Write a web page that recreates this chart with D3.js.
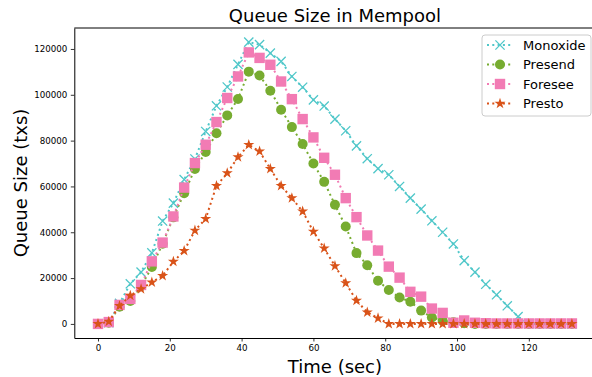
<!DOCTYPE html>
<html>
<head>
<meta charset="utf-8">
<script src="https://cdn.jsdelivr.net/npm/d3@7"></script>
<style>
  html, body { margin: 0; padding: 0; background: #fff; }
  svg { display: block; font-family: "DejaVu Sans", sans-serif; }
</style>
</head>
<body>
<div id="chart"></div>
<script>
// Sampling times (sec), one point every 3 s
const times = d3.range(0, 133, 3);

const monoxide = [0, 500, 9000, 17500, 22600, 31000, 44900, 52700, 63000, 72000,
  84000, 95200, 103400, 113300, 123000, 121900, 118200, 114600, 108000, 103300,
  97800, 95100, 89400, 84300, 77700, 72100, 67800, 65100, 60000, 54900,
  50100, 45000, 40000, 34900, 27600, 22600, 17300, 12700, 7900, 3200,
  0, 0, 0, 0, 0];

const presend = [0, 500, 7500, 10000, 16500, 24800, 35000, 46500, 57000, 67600,
  75000, 83200, 91000, 98200, 110100, 108400, 101800, 93500, 85900, 78500,
  70000, 62000, 52000, 42500, 30900, 25600, 18800, 14800, 11500, 9700,
  5800, 2800, 1400, 700, 300, 0, 0, 0, 0, 0,
  0, 0, 0, 0, 0];

const foresee = [0, 800, 8300, 10900, 17000, 27300, 35500, 46900, 59500, 70200,
  78200, 88100, 98600, 108000, 118500, 116100, 113100, 105800, 98100, 89400,
  81400, 72500, 65100, 54900, 46600, 38600, 32000, 25000, 20200, 14000,
  11900, 6700, 4800, 500, 1500, 500, 300, 200, 200, 200,
  200, 200, 200, 200, 200];

const presto = [0, 1000, 7900, 12400, 15200, 18200, 21000, 27200, 31900, 40800,
  45900, 60300, 65800, 72800, 78200, 75300, 67700, 60300, 54900, 49100,
  40300, 33000, 25300, 17800, 10200, 5100, 2500, 0, 0, 0,
  0, 0, 0, 0, 0, 0, 0, 0, 0, 0,
  0, 0, 0, 0, 0];

const seriesNames = ["Monoxide", "Presend", "Foresee", "Presto"];
const seriesValues = [monoxide, presend, foresee, presto];
const seriesColors = ["#4fc7c9", "#77ac30", "#f27bb4", "#d95319"];
const seriesMarkers = ["x", "circle", "square", "star"];

const xTicks = [0, 20, 40, 60, 80, 100, 120];
const yTicks = [0, 20000, 40000, 60000, 80000, 100000, 120000];

const W = 592, H = 377;
const plot = { left: 74.3, right: 595.6, top: 28, bottom: 338 };

const svg = d3.select("#chart").append("svg")
  .attr("width", W)
  .attr("height", H);

// matplotlib-like 5% margins
const x = d3.scaleLinear().domain([-6.6, 138.6]).range([plot.left, plot.right]);
const y = d3.scaleLinear().domain([-6150, 129150]).range([plot.bottom, plot.top]);

// marker drawing
function drawMarker(g, type, color) {
  if (type === "x") {
    const r = 4.6;
    g.append("path")
      .attr("d", "M" + -r + "," + -r + "L" + r + "," + r + "M" + -r + "," + r + "L" + r + "," + -r)
      .attr("stroke", color)
      .attr("stroke-width", 1.3)
      .attr("fill", "none");
  } else if (type === "circle") {
    g.append("circle").attr("r", 5).attr("fill", color);
  } else if (type === "square") {
    g.append("rect")
      .attr("x", -5.2).attr("y", -5.2)
      .attr("width", 10.4).attr("height", 10.4)
      .attr("fill", color);
  } else if (type === "star") {
    g.append("path")
      .attr("d", d3.symbol().type(d3.symbolStar).size(38)())
      .attr("fill", color);
  }
}

const clip = svg.append("clipPath").attr("id", "clip")
  .append("rect")
  .attr("x", plot.left).attr("y", plot.top)
  .attr("width", plot.right - plot.left)
  .attr("height", plot.bottom - plot.top);

const lineGen = d3.line()
  .x(function(d) { return x(d[0]); })
  .y(function(d) { return y(d[1]); });

const plotArea = svg.append("g").attr("clip-path", "url(#clip)");

seriesValues.forEach(function(vals, i) {
  const pts = times.map(function(t, k) { return [t, vals[k]]; });
  const g = plotArea.append("g");
  g.append("path")
    .datum(pts)
    .attr("d", lineGen)
    .attr("fill", "none")
    .attr("stroke", seriesColors[i])
    .attr("stroke-width", 2)
    .attr("stroke-dasharray", "2,3.3");
  pts.forEach(function(p) {
    const m = g.append("g")
      .attr("transform", "translate(" + x(p[0]) + "," + y(p[1]) + ")");
    drawMarker(m, seriesMarkers[i], seriesColors[i]);
  });
});

// axes
const xAxis = svg.append("g")
  .attr("transform", "translate(0," + plot.bottom + ")")
  .call(d3.axisBottom(x).tickValues(xTicks).tickSize(3.5).tickPadding(3.5).tickSizeOuter(0));
const yAxis = svg.append("g")
  .attr("transform", "translate(" + plot.left + ",0)")
  .call(d3.axisLeft(y).tickValues(yTicks).tickSize(3.5).tickPadding(3.5).tickSizeOuter(0)
    .tickFormat(d3.format("d")));

[xAxis, yAxis].forEach(function(a) {
  a.select(".domain").attr("stroke", "#000").attr("stroke-width", 1);
  a.selectAll(".tick line").attr("stroke", "#000").attr("stroke-width", 0.8);
  a.selectAll(".tick text")
    .attr("fill", "#000")
    .attr("font-size", "8.7px")
    .attr("font-family", "DejaVu Sans, sans-serif");
});

// top spine
svg.append("line")
  .attr("x1", plot.left).attr("x2", plot.right)
  .attr("y1", plot.top).attr("y2", plot.top)
  .attr("stroke", "#000").attr("stroke-width", 1);
svg.append("line")
  .attr("x1", plot.right).attr("x2", plot.right)
  .attr("y1", plot.top).attr("y2", plot.bottom)
  .attr("stroke", "#000").attr("stroke-width", 1);

// titles
svg.append("text")
  .attr("x", (plot.left + plot.right) / 2)
  .attr("y", 22)
  .attr("text-anchor", "middle")
  .attr("font-size", "18px")
  .text("Queue Size in Mempool");

svg.append("text")
  .attr("x", (plot.left + plot.right) / 2)
  .attr("y", 373)
  .attr("text-anchor", "middle")
  .attr("font-size", "18px")
  .text("Time (sec)");

svg.append("text")
  .attr("transform", "translate(27," + (plot.top + plot.bottom) / 2 + ") rotate(-90)")
  .attr("text-anchor", "middle")
  .attr("font-size", "18px")
  .text("Queue Size (txs)");

// legend
const legend = svg.append("g").attr("transform", "translate(482,35)");
legend.append("rect")
  .attr("x", 0).attr("y", 0)
  .attr("width", 109).attr("height", 81)
  .attr("rx", 3)
  .attr("fill", "#fff")
  .attr("fill-opacity", 0.8)
  .attr("stroke", "#cccccc")
  .attr("stroke-width", 1);

seriesNames.forEach(function(name, i) {
  const row = legend.append("g").attr("transform", "translate(0," + (10 + i * 19.5) + ")");
  row.append("line")
    .attr("x1", 5).attr("x2", 31)
    .attr("stroke", seriesColors[i])
    .attr("stroke-width", 2)
    .attr("stroke-dasharray", "2,3.3");
  const m = row.append("g").attr("transform", "translate(18,0)");
  drawMarker(m, seriesMarkers[i], seriesColors[i]);
  row.append("text")
    .attr("x", 41)
    .attr("y", 0)
    .attr("dy", "0.36em")
    .attr("font-size", "13px")
    .text(name);
});
</script>
</body>
</html>
